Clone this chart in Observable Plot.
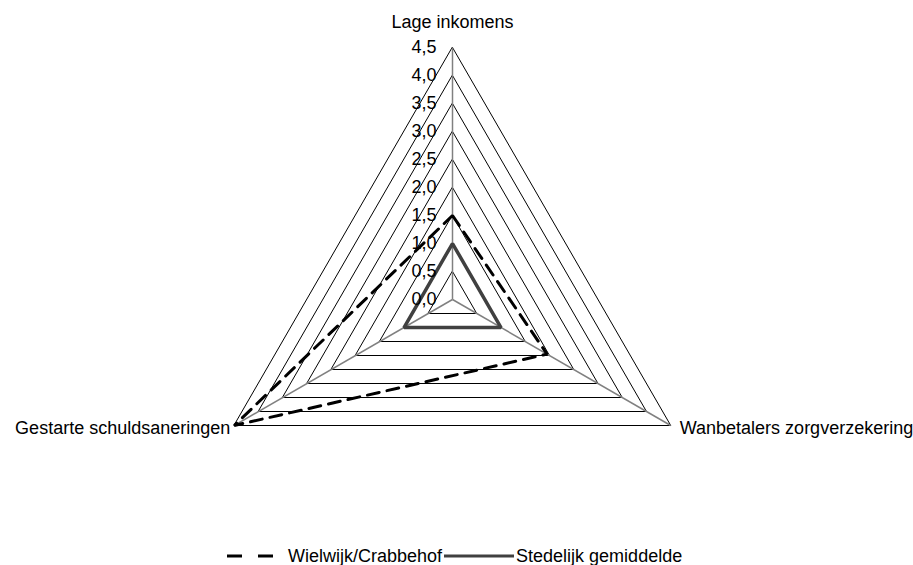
<!DOCTYPE html>
<html>
<head>
<meta charset="utf-8">
<script src="https://cdn.jsdelivr.net/npm/d3@7"></script>
<script src="https://cdn.jsdelivr.net/npm/@observablehq/plot@0.6"></script>
<style>
  html, body { margin: 0; padding: 0; background: #fff; }
  body { width: 913px; height: 565px; position: relative; overflow: hidden;
         font-family: "Liberation Sans", Arial, sans-serif; }
  #legend { position: absolute; left: 227px; top: 545px; height: 22px;
            display: flex; align-items: center; font-size: 18px; line-height: 20px; color: #000; white-space: nowrap; }
  #legend svg { display: block; }
</style>
</head>
<body>
<div id="chart"></div>
<div id="legend"></div>
<script>
// ---- data ----
const axes = ["Lage inkomens", "Wanbetalers zorgverzekering", "Gestarte schuldsaneringen"];
const seriesNames = ["Wielwijk/Crabbehof", "Stedelijk gemiddelde"];
const wielwijk = [1.5, 1.95, 4.5];
const stedelijk = [1.0, 1.0, 1.0];
const tickValues = [0, 0.5, 1, 1.5, 2, 2.5, 3, 3.5, 4, 4.5];
const tickLabels = ["0,0", "0,5", "1,0", "1,5", "2,0", "2,5", "3,0", "3,5", "4,0", "4,5"];
const maxValue = 4.5;

// ---- geometry helpers ----
const W = 913, H = 540;
const cx = 452, cy = 299, k = 56; // px per unit
const angles = [90, -30, 210].map(d => d * Math.PI / 180);
const pt = (i, r) => ({x: r * Math.cos(angles[i]), y: r * Math.sin(angles[i])});

const rings = tickValues.filter(v => v > 0).flatMap(v => axes.map((a, i) => ({level: v, ...pt(i, v)})));
const spokes = axes.map((a, i) => ({name: a, x1: 0, y1: 0, x2: pt(i, maxValue).x, y2: pt(i, maxValue).y}));
const ticks = tickValues.map((v, j) => ({x: 0, y: v, label: tickLabels[j]}));
const s1 = wielwijk.map((v, i) => ({series: seriesNames[0], ...pt(i, v)}));
const s2 = stedelijk.map((v, i) => ({series: seriesNames[1], ...pt(i, v)}));
const labels = axes.map((a, i) => ({name: a, ...pt(i, maxValue)}));

const font = "18px";
const chart = Plot.plot({
  width: W, height: H,
  margin: 0,
  style: {fontFamily: '"Liberation Sans", Arial, sans-serif', fontSize: font, background: "#fff", color: "#000"},
  x: {domain: [-cx / k, (W - cx) / k], axis: null},
  y: {domain: [-(H - cy) / k, cy / k], axis: null},
  marks: [
    Plot.line(rings, {x: "x", y: "y", z: "level", curve: "linear-closed", stroke: "#000", strokeWidth: 1}),
    Plot.link(spokes, {x1: "x1", y1: "y1", x2: "x2", y2: "y2", stroke: "#808080", strokeWidth: 1.5}),
    Plot.line(s2, {x: "x", y: "y", curve: "linear-closed", stroke: "#404040", strokeWidth: 3.5, strokeLinejoin: "miter"}),
    Plot.line(s1, {x: "x", y: "y", curve: "linear-closed", stroke: "#000", strokeWidth: 3, strokeDasharray: "12,8", strokeLinejoin: "miter"}),
    Plot.text(ticks, {x: "x", y: "y", text: "label", textAnchor: "end", dx: -16, fontSize: font, fill: "#000"}),
    Plot.text(labels.slice(0, 1), {x: "x", y: "y", text: "name", textAnchor: "middle", dy: -25, fontSize: font, fill: "#000"}),
    Plot.text(labels.slice(1, 2), {x: "x", y: "y", text: "name", textAnchor: "start", dx: 9, dy: 3, fontSize: font, fill: "#000"}),
    Plot.text(labels.slice(2, 3), {x: "x", y: "y", text: "name", textAnchor: "end", dx: -4, dy: 3, fontSize: font, fill: "#000"})
  ]
});
document.getElementById("chart").appendChild(chart);

// ---- legend ----
const legend = document.getElementById("legend");
legend.innerHTML = `
  <svg width="46" height="8"><line x1="0" y1="4" x2="46" y2="4" stroke="#000" stroke-width="3" stroke-dasharray="15,16"/></svg>
  <span style="margin-left:15px">${seriesNames[0]}</span>
  <svg width="70" height="8" style="margin-left:2px"><line x1="0" y1="4" x2="70" y2="4" stroke="#404040" stroke-width="3"/></svg>
  <span style="margin-left:2px">${seriesNames[1]}</span>`;
</script>
</body>
</html>
